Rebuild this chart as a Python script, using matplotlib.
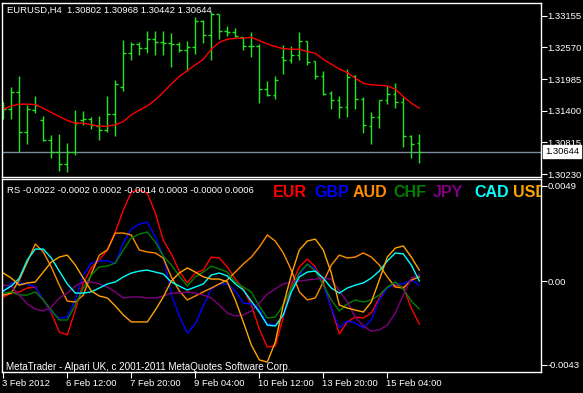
"""
"""
# ====================================================== Imports ===================================================== #

import matplotlib
matplotlib.use("Agg")
import matplotlib.pyplot as plt
import matplotlib.transforms as mtransforms

plt.rcParams['font.family'] = ['Liberation Sans', 'DejaVu Sans']

# ===================================================== Variables ==================================================== #

bar_open = [1.31446, 1.31428, 1.31754, 1.31010, 1.31415, 1.31219, 1.30850, 1.30641, 1.30413, 1.30641,
            1.31219, 1.31243, 1.31114, 1.31046, 1.31336, 1.31834, 1.32473, 1.32639, 1.32553, 1.32719,
            1.32676, 1.32645, 1.32627, 1.32522, 1.32584, 1.33064, 1.32799, 1.33181, 1.32879, 1.32855,
            1.32756, 1.32596, 1.32596, 1.31797, 1.31686, 1.32387, 1.32332, 1.32430, 1.32682, 1.32320,
            1.32037, 1.31729, 1.31606, 1.31477, 1.32037, 1.31618, 1.31114, 1.31280, 1.31594, 1.31705,
            1.31557, 1.30936, 1.30802]
bar_high = [1.31557, 1.31834, 1.32043, 1.31508, 1.31674, 1.31305, 1.30954, 1.30973, 1.30800, 1.31415,
            1.31397, 1.31280, 1.31299, 1.31674, 1.31969, 1.32707, 1.32676, 1.32676, 1.32873, 1.32879,
            1.32873, 1.32830, 1.32676, 1.32689, 1.33125, 1.33076, 1.33217, 1.33181, 1.32965, 1.32935,
            1.32768, 1.32848, 1.32627, 1.31951, 1.32043, 1.32615, 1.32596, 1.32855, 1.32682, 1.32320,
            1.32135, 1.31772, 1.31680, 1.32172, 1.32061, 1.31655, 1.31379, 1.31600, 1.31858, 1.31914,
            1.31655, 1.30954, 1.30968]
bar_low = [1.31243, 1.31243, 1.30641, 1.30788, 1.31366, 1.30831, 1.30518, 1.30278, 1.30259, 1.30579,
           1.31133, 1.31053, 1.30862, 1.31010, 1.30936, 1.31772, 1.32338, 1.32430, 1.32473, 1.32430,
           1.32430, 1.32215, 1.32492, 1.32141, 1.32443, 1.32645, 1.32338, 1.32719, 1.32787, 1.32756,
           1.32522, 1.32399, 1.31551, 1.31674, 1.31625, 1.32074, 1.32289, 1.32338, 1.32240, 1.31981,
           1.31686, 1.31440, 1.31262, 1.31292, 1.31440, 1.30985, 1.30788, 1.31077, 1.31520, 1.31446,
           1.30727, 1.30518, 1.30442]
bar_close = [1.31428, 1.31754, 1.31010, 1.31428, 1.31508, 1.30850, 1.30641, 1.30413, 1.30641, 1.31169,
             1.31243, 1.31139, 1.31046, 1.31336, 1.31895, 1.32473, 1.32639, 1.32553, 1.32719, 1.32676,
             1.32645, 1.32627, 1.32522, 1.32584, 1.33064, 1.32799, 1.33181, 1.32879, 1.32855, 1.32781,
             1.32596, 1.32596, 1.31797, 1.31686, 1.31969, 1.32332, 1.32430, 1.32682, 1.32301, 1.32037,
             1.31717, 1.31606, 1.31477, 1.32024, 1.31618, 1.31133, 1.31280, 1.31594, 1.31705, 1.31557,
             1.30936, 1.30782, 1.30644]
ma_values = [1.31428, 1.31489, 1.31520, 1.31520, 1.31514, 1.31446, 1.31366, 1.31292, 1.31219, 1.31169,
             1.31169, 1.31139, 1.31114, 1.31114, 1.31139, 1.31200, 1.31323, 1.31409, 1.31489, 1.31600,
             1.31741, 1.31895, 1.32031, 1.32141, 1.32246, 1.32350, 1.32535, 1.32664, 1.32719, 1.32738,
             1.32738, 1.32756, 1.32695, 1.32633, 1.32584, 1.32547, 1.32535, 1.32535, 1.32492, 1.32461,
             1.32350, 1.32258, 1.32172, 1.32104, 1.32000, 1.31907, 1.31877, 1.31871, 1.31858, 1.31797,
             1.31662, 1.31539, 1.31446]

rs_eur = [-0.00082, -0.00062, -0.00056, -0.00036, -0.00031, -0.00097, -0.00164, -0.00262, -0.00277, -0.00149,
          -0.00010, 0.00067, 0.00108, 0.00159, 0.00251, 0.00364, 0.00457, 0.00467, 0.00451, 0.00349,
          0.00210, 0.00139, 0.00051, -0.00010, 0.00041, 0.00056, 0.00123, 0.00118, 0.00072, 0.00010,
          -0.00041, -0.00123, -0.00246, -0.00339, -0.00333, -0.00185, -0.00021, 0.00072, 0.00113, 0.00072,
          -0.00005, -0.00139, -0.00272, -0.00210, -0.00185, -0.00190, -0.00164, -0.00087, -0.00031, -0.00021,
          -0.00031, -0.00139, -0.00221]
rs_gbp = [-0.00056, -0.00010, -0.00010, -0.00015, -0.00031, -0.00097, -0.00159, -0.00190, -0.00185, -0.00097,
          0.00031, 0.00092, 0.00103, 0.00103, 0.00092, 0.00195, 0.00267, 0.00292, 0.00303, 0.00226,
          0.00128, -0.00067, -0.00180, -0.00267, -0.00221, -0.00128, -0.00041, -0.00015, -0.00015, -0.00051,
          -0.00113, -0.00118, -0.00144, -0.00221, -0.00226, -0.00180, -0.00056, 0.00031, 0.00087, 0.00062,
          -0.00021, -0.00139, -0.00241, -0.00205, -0.00215, -0.00241, -0.00200, -0.00097, -0.00036, -0.00015,
          -0.00015, 0.00005, -0.00021]
rs_aud = [-0.00072, -0.00062, 0.00005, 0.00097, 0.00190, 0.00149, 0.00072, -0.00021, -0.00103, -0.00108,
          -0.00072, 0.00036, 0.00133, 0.00159, 0.00246, 0.00246, 0.00236, 0.00159, 0.00149, 0.00144,
          0.00118, 0.00021, -0.00051, -0.00097, -0.00077, -0.00056, -0.00036, -0.00015, 0.00005, 0.00046,
          0.00087, 0.00123, 0.00174, 0.00236, 0.00205, 0.00144, 0.00056, -0.00056, -0.00097, -0.00087,
          -0.00005, 0.00082, 0.00133, 0.00118, 0.00123, 0.00144, 0.00123, 0.00082, 0.00021, -0.00031,
          -0.00036, 0.00005, 0.00021]
rs_chf = [-0.00062, -0.00056, -0.00072, -0.00072, -0.00056, -0.00097, -0.00149, -0.00200, -0.00200, -0.00123,
          -0.00036, 0.00031, 0.00072, 0.00077, 0.00092, 0.00159, 0.00221, 0.00241, 0.00251, 0.00200,
          0.00128, 0.00082, 0.00026, -0.00026, 0.00021, 0.00046, 0.00077, 0.00062, 0.00046, -0.00005,
          -0.00031, -0.00056, -0.00128, -0.00190, -0.00185, -0.00123, -0.00036, 0.00041, 0.00087, 0.00051,
          -0.00021, -0.00097, -0.00154, -0.00118, -0.00097, -0.00108, -0.00097, -0.00072, -0.00031, -0.00005,
          -0.00041, -0.00103, -0.00144]
rs_jpy = [-0.00021, -0.00026, -0.00072, -0.00118, -0.00144, -0.00154, -0.00133, -0.00087, -0.00062, -0.00026,
          -0.00005, -0.00005, -0.00015, -0.00031, -0.00056, -0.00087, -0.00082, -0.00082, -0.00087, -0.00087,
          -0.00077, -0.00062, -0.00062, -0.00056, -0.00062, -0.00072, -0.00087, -0.00123, -0.00164, -0.00180,
          -0.00174, -0.00154, -0.00113, -0.00067, -0.00041, -0.00015, -0.00005, 0.00000, 0.00005, 0.00010,
          0.00015, 0.00010, -0.00051, -0.00108, -0.00185, -0.00231, -0.00257, -0.00251, -0.00226, -0.00164,
          -0.00072, 0.00015, 0.00031]
rs_cad = [-0.00051, -0.00026, 0.00015, 0.00108, 0.00164, 0.00164, 0.00118, 0.00051, -0.00015, -0.00062,
          -0.00062, -0.00056, -0.00036, -0.00015, -0.00005, 0.00021, 0.00041, 0.00051, 0.00056, 0.00046,
          0.00036, -0.00005, -0.00026, -0.00046, -0.00031, -0.00015, 0.00031, 0.00041, 0.00026, -0.00015,
          -0.00046, -0.00103, -0.00159, -0.00226, -0.00231, -0.00174, -0.00056, 0.00021, 0.00046, 0.00051,
          0.00015, -0.00036, -0.00062, -0.00036, -0.00021, -0.00010, 0.00015, 0.00051, 0.00103, 0.00144,
          0.00139, 0.00082, 0.00000]
rs_usd = [0.00041, 0.00015, -0.00021, -0.00010, -0.00005, 0.00046, 0.00097, 0.00123, 0.00133, 0.00082,
          0.00015, -0.00051, -0.00077, -0.00087, -0.00128, -0.00174, -0.00210, -0.00210, -0.00210, -0.00149,
          -0.00082, 0.00000, 0.00041, 0.00067, 0.00046, 0.00021, 0.00010, 0.00010, -0.00005, -0.00097,
          -0.00210, -0.00328, -0.00405, -0.00416, -0.00313, -0.00123, 0.00031, 0.00159, 0.00205, 0.00215,
          0.00159, 0.00041, -0.00123, -0.00139, -0.00149, -0.00159, -0.00108, 0.00005, 0.00123, 0.00169,
          0.00180, 0.00123, 0.00056]

currencies = ['EUR', 'GBP', 'AUD', 'CHF', 'JPY', 'CAD', 'USD']
currency_colors = ['#FF0000', '#0000FF', '#FF8C00', '#008000', '#800080', '#00FFFF', '#FFA500']

price_ticks = [1.33155, 1.32570, 1.31985, 1.31400, 1.30815, 1.30230]
rs_ticks = [0.0049, 0.0, -0.0043]
rs_tick_labels = ['0.0049', '0.00', '-0.0043']
date_ticks = [0, 8, 16, 24, 32, 40, 48]
date_labels = ['3 Feb 2012', '6 Feb 12:00', '7 Feb 20:00', '9 Feb 04:00', '10 Feb 12:00',
               '13 Feb 20:00', '15 Feb 04:00']

rs_header = 'RS -0.0022 -0.0002 0.0002 -0.0014 0.0003 -0.0000 0.0006'
copyright_text = 'MetaTrader - Alpari UK, c 2001-2011 MetaQuotes Software Corp.'

W, H = 583, 393
BAR_GREEN = '#22E622'
SMALL = 6.8


# ======================================================= Main ======================================================= #


def main():
    fig = plt.figure(figsize=(W / 100, H / 100), dpi=100, facecolor='black')
    ax_price = fig.add_axes([2 / W, 1 - 177 / H, 539 / W, 174.3 / H])
    ax_rs = fig.add_axes([2 / W, 1 - 372 / H, 539 / W, 192.7 / H])

    for ax in (ax_price, ax_rs):
        style_axes(ax)
        ax.set_xlim(-0.16, 67.21)

    # price bars
    n = len(bar_close)
    xs = list(range(n))
    ax_price.vlines(xs, bar_low, bar_high, color=BAR_GREEN, lw=1)
    ax_price.hlines(bar_open, [x - 0.35 for x in xs], xs, color=BAR_GREEN, lw=1)
    ax_price.hlines(bar_close, xs, [x + 0.35 for x in xs], color=BAR_GREEN, lw=1)
    ax_price.plot(xs, ma_values, color='#FF0000', lw=1)
    ax_price.axhline(bar_close[-1], color='#7B8A9A', lw=1, zorder=1)
    ax_price.set_ylim(1.30175, 1.33395)
    ax_price.set_yticks(price_ticks)
    ax_price.set_yticklabels([f'{p:.5f}' for p in price_ticks])
    ax_price.tick_params(axis='x', bottom=False, labelbottom=False)

    ax_price.text(0.0087, 0.954, f'EURUSD,H4  {bar_open[-1]:.5f} {bar_high[-1]:.5f} '
                                 f'{bar_low[-1]:.5f} {bar_close[-1]:.5f}',
                  transform=ax_price.transAxes, color='white', fontsize=SMALL, va='center', ha='left')
    trans = mtransforms.blended_transform_factory(ax_price.transAxes, ax_price.transData)
    ax_price.text(1.0 + 4 / 539, bar_close[-1], f'{bar_close[-1]:.5f}', transform=trans, color='black',
                  fontsize=SMALL, va='center', ha='left', clip_on=False, zorder=10,
                  bbox=dict(facecolor='white', edgecolor='white', pad=1.5))

    # relative strength lines
    series = [rs_eur, rs_gbp, rs_aud, rs_chf, rs_jpy, rs_cad, rs_usd]
    for values, color in zip(series, currency_colors):
        ax_rs.plot(xs, values, color=color, lw=1)
    ax_rs.set_ylim(-0.00467, 0.00522)
    ax_rs.set_yticks(rs_ticks)
    ax_rs.set_yticklabels(rs_tick_labels)
    ax_rs.set_xticks(date_ticks)
    ax_rs.set_xticklabels(date_labels)
    offset = mtransforms.ScaledTranslation(-1.5 / 100, 0, fig.dpi_scale_trans)
    for label in ax_rs.get_xticklabels():
        label.set_ha('left')
        label.set_transform(label.get_transform() + offset)

    ax_rs.text(0.0087, 0.944, rs_header, transform=ax_rs.transAxes, color='white', fontsize=SMALL,
               va='center', ha='left')
    ax_rs.text(0.0074, 0.026, copyright_text, transform=ax_rs.transAxes, color='white', fontsize=7.1,
               va='center', ha='left')
    label_left = [273, 314, 353, 393, 433, 474, 513]
    for name, color, left in zip(currencies, currency_colors, label_left):
        ax_rs.text((left - 2) / 539, 0.932, name, transform=ax_rs.transAxes, color=color,
                   fontsize=11.5, fontweight='bold', va='center', ha='left', clip_on=True)

    fig.savefig('out.png', dpi=100, facecolor='black')


# ===================================================== Functions ==================================================== #


def style_axes(ax):
    ax.set_facecolor('black')
    for spine in ax.spines.values():
        spine.set_color('white')
        spine.set_linewidth(1)
    ax.yaxis.tick_right()
    ax.tick_params(axis='y', colors='white', direction='out', length=4, width=0.8, pad=0.8, labelsize=SMALL)
    ax.tick_params(axis='x', colors='white', direction='out', length=4, width=0.8, pad=1.2, labelsize=SMALL)


# ==================================================================================================================== #


if __name__ == '__main__':
    main()
